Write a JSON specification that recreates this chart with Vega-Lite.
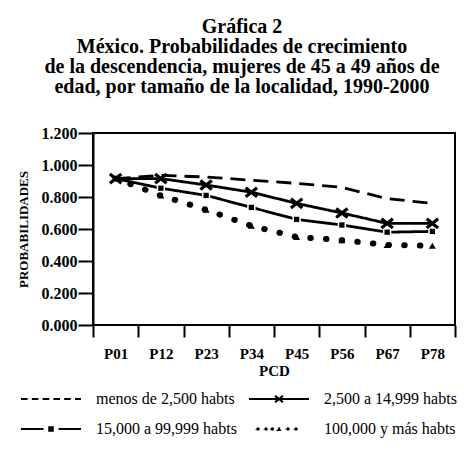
{
  "$schema": "https://vega.github.io/schema/vega-lite/v6.json",
  "width": 362,
  "height": 192,
  "autosize": {"type": "none"},
  "padding": {"left": 93, "top": 133, "right": 9, "bottom": 126},
  "background": "white",
  "config": {
    "view": {"stroke": "black", "strokeWidth": 2},
    "font": "Liberation Serif"
  },
  "title": {
    "text": ["Gráfica 2", "México. Probabilidades de crecimiento", "de la descendencia, mujeres de 45 a 49 años de", "edad, por tamaño de la localidad, 1990-2000"],
    "font": "Liberation Serif",
    "fontSize": 20,
    "fontWeight": "bold",
    "lineHeight": 20,
    "color": "black",
    "anchor": "middle",
    "frame": "group",
    "dx": -32,
    "offset": 28
  },
  "data": {
    "values": [
      {"pcd": "P01", "serie": "menos de 2,500 habts", "valor": 0.915},
      {"pcd": "P12", "serie": "menos de 2,500 habts", "valor": 0.935},
      {"pcd": "P23", "serie": "menos de 2,500 habts", "valor": 0.925},
      {"pcd": "P34", "serie": "menos de 2,500 habts", "valor": 0.905},
      {"pcd": "P45", "serie": "menos de 2,500 habts", "valor": 0.885},
      {"pcd": "P56", "serie": "menos de 2,500 habts", "valor": 0.86},
      {"pcd": "P67", "serie": "menos de 2,500 habts", "valor": 0.79},
      {"pcd": "P78", "serie": "menos de 2,500 habts", "valor": 0.76},
      {"pcd": "P01", "serie": "2,500 a 14,999 habts", "valor": 0.915},
      {"pcd": "P12", "serie": "2,500 a 14,999 habts", "valor": 0.915},
      {"pcd": "P23", "serie": "2,500 a 14,999 habts", "valor": 0.875},
      {"pcd": "P34", "serie": "2,500 a 14,999 habts", "valor": 0.83},
      {"pcd": "P45", "serie": "2,500 a 14,999 habts", "valor": 0.76},
      {"pcd": "P56", "serie": "2,500 a 14,999 habts", "valor": 0.70},
      {"pcd": "P67", "serie": "2,500 a 14,999 habts", "valor": 0.635},
      {"pcd": "P78", "serie": "2,500 a 14,999 habts", "valor": 0.635},
      {"pcd": "P01", "serie": "15,000 a 99,999 habts", "valor": 0.915},
      {"pcd": "P12", "serie": "15,000 a 99,999 habts", "valor": 0.855},
      {"pcd": "P23", "serie": "15,000 a 99,999 habts", "valor": 0.81},
      {"pcd": "P34", "serie": "15,000 a 99,999 habts", "valor": 0.735},
      {"pcd": "P45", "serie": "15,000 a 99,999 habts", "valor": 0.66},
      {"pcd": "P56", "serie": "15,000 a 99,999 habts", "valor": 0.625},
      {"pcd": "P67", "serie": "15,000 a 99,999 habts", "valor": 0.58},
      {"pcd": "P78", "serie": "15,000 a 99,999 habts", "valor": 0.585},
      {"pcd": "P01", "serie": "100,000 y más habts", "valor": 0.915},
      {"pcd": "P12", "serie": "100,000 y más habts", "valor": 0.81},
      {"pcd": "P23", "serie": "100,000 y más habts", "valor": 0.72},
      {"pcd": "P34", "serie": "100,000 y más habts", "valor": 0.62},
      {"pcd": "P45", "serie": "100,000 y más habts", "valor": 0.55},
      {"pcd": "P56", "serie": "100,000 y más habts", "valor": 0.53},
      {"pcd": "P67", "serie": "100,000 y más habts", "valor": 0.50},
      {"pcd": "P78", "serie": "100,000 y más habts", "valor": 0.495}
    ]
  },
  "encoding": {
    "x": {
      "field": "pcd",
      "type": "ordinal",
      "bandPosition": 0.5,
      "scale": {"type": "band", "paddingInner": 0, "paddingOuter": 0},
      "axis": {
        "title": "PCD",
        "titleFont": "Liberation Serif",
        "titleFontSize": 15,
        "titleFontWeight": "bold",
        "titleColor": "black",
        "titlePadding": 2,
        "labelFont": "Liberation Serif",
        "labelFontSize": 15,
        "labelFontWeight": "bold",
        "labelColor": "black",
        "labelAngle": 0,
        "labelPadding": 9,
        "tickBand": "extent",
        "tickSize": 12,
        "tickWidth": 2,
        "tickColor": "black",
        "domain": false
      }
    },
    "y": {
      "field": "valor",
      "type": "quantitative",
      "scale": {"domain": [0, 1.2], "nice": false, "zero": true},
      "axis": {
        "values": [0, 0.2, 0.4, 0.6, 0.8, 1.0, 1.2],
        "format": ".3f",
        "title": "PROBABILIDADES",
        "titleFont": "Liberation Serif",
        "titleFontSize": 13,
        "titleFontWeight": "bold",
        "titleColor": "black",
        "titlePadding": 11,
        "labelFont": "Liberation Serif",
        "labelFontSize": 16,
        "labelFontWeight": "bold",
        "labelColor": "black",
        "labelPadding": 1,
        "tickSize": 15,
        "tickWidth": 2,
        "tickColor": "black",
        "domainColor": "black",
        "domainWidth": 2,
        "grid": false
      }
    }
  },
  "layer": [
    {
      "transform": [{"filter": "datum.serie != '100,000 y más habts'"}],
      "mark": {"type": "line", "color": "black", "strokeWidth": 2.8},
      "encoding": {
        "strokeDash": {
          "field": "serie",
          "type": "nominal",
          "scale": {
            "domain": ["menos de 2,500 habts", "2,500 a 14,999 habts", "15,000 a 99,999 habts", "100,000 y más habts"],
            "range": [[15, 8], [1, 0], [1, 0], [0.5, 15.2]]
          },
          "legend": {
            "orient": "none",
            "direction": "horizontal",
            "legendX": -75,
            "legendY": 258,
            "title": null,
            "columns": 2,
            "columnPadding": 8,
            "rowPadding": 14,
            "symbolSize": 100,
            "symbolStrokeWidth": 2,
            "symbolStrokeColor": "black",
            "symbolFillColor": "black",
            "labelFont": "Liberation Serif",
            "labelFontSize": 16,
            "labelColor": "black",
            "labelOffset": 62,
            "labelLimit": 300,
            "encode": {
              "symbols": {
                "update": {
                  "shape": {"signal": "datum.value == 'menos de 2,500 habts' ? 'M-1,0H0.32M1.16,0H2.48M3.32,0H4.64M5.48,0H6.8M7.64,0H8.96M9.8,0H11' : datum.value == '2,500 a 14,999 habts' ? 'M-1,0H11M4.2,-0.65L5.8,0.65M4.2,0.65L5.8,-0.65' : datum.value == '15,000 a 99,999 habts' ? 'M-1,0H3.5M6.5,0H11M4.64,-0.36H5.36V0.36H4.64Z' : 'M0.47,0a0.33,0.33 0 1,0 0.66,0a0.33,0.33 0 1,0 -0.66,0M2.09,0a0.33,0.33 0 1,0 0.66,0a0.33,0.33 0 1,0 -0.66,0M3.35,0a0.33,0.33 0 1,0 0.66,0a0.33,0.33 0 1,0 -0.66,0M4.52,0.42L5,-0.48L5.48,0.42ZM6.47,0a0.33,0.33 0 1,0 0.66,0a0.33,0.33 0 1,0 -0.66,0M8.09,0a0.33,0.33 0 1,0 0.66,0a0.33,0.33 0 1,0 -0.66,0'"},
                  "strokeDash": {"value": []},
                  "fill": {"value": "black"},
                  "stroke": {"value": "black"},
                  "strokeWidth": {"value": 2},
                  "opacity": {"value": 1}
                }
              }
            }
          }
        }
      }
    },
    {
      "transform": [{"filter": "datum.serie == '100,000 y más habts'"}],
      "mark": {"type": "line", "color": "black", "strokeWidth": 6, "strokeCap": "round"},
      "encoding": {
        "strokeDash": {"field": "serie", "type": "nominal"}
      }
    },
    {
      "transform": [{"filter": "datum.serie == '15,000 a 99,999 habts' && datum.pcd != 'P01'"}],
      "mark": {"type": "point", "shape": "square", "filled": true, "color": "white", "size": 70, "opacity": 1}
    },
    {
      "transform": [{"filter": "datum.serie == '15,000 a 99,999 habts' && datum.pcd != 'P01'"}],
      "mark": {"type": "point", "shape": "square", "filled": true, "color": "black", "size": 28, "opacity": 1}
    },
    {
      "transform": [{"filter": "datum.serie == '100,000 y más habts' && datum.pcd != 'P01'"}],
      "mark": {"type": "point", "shape": "triangle-up", "filled": true, "color": "black", "size": 50, "opacity": 1}
    },
    {
      "transform": [{"filter": "datum.serie == '2,500 a 14,999 habts'"}],
      "mark": {"type": "point", "shape": "M-1,-0.8L1,0.8M-1,0.8L1,-0.8", "filled": false, "stroke": "black", "strokeWidth": 3.2, "size": 130, "opacity": 1}
    }
  ]
}
